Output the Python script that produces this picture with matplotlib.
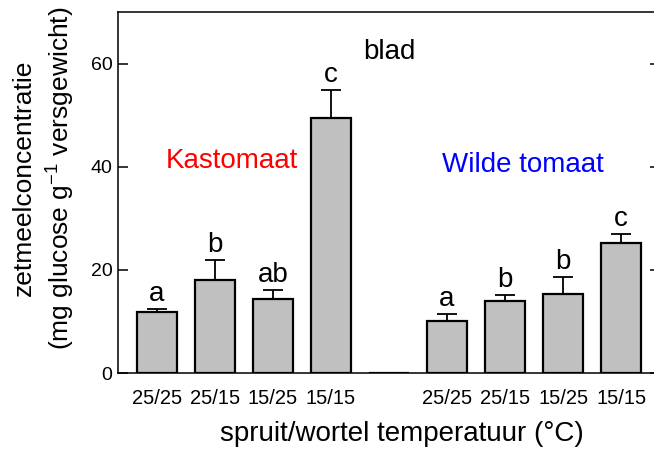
import matplotlib
matplotlib.use("Agg")
import matplotlib.pyplot as plt
import numpy as np

plt.rcParams['font.family'] = ['Liberation Sans', 'DejaVu Sans']
plt.rcParams['mathtext.default'] = 'regular'

# Dati
behandelingen = ["25/25", "25/15", "15/25", "15/15"]
kast_gem = [11.9, 18.0, 14.3, 49.5]
kast_se = [0.5, 3.9, 1.8, 5.3]
kast_letters = ["a", "b", "ab", "c"]
wild_gem = [10.1, 13.9, 15.3, 25.2]
wild_se = [1.3, 1.2, 3.3, 1.7]
wild_letters = ["a", "b", "b", "c"]

x_kast = np.arange(4)
x_wild = np.arange(4) + 5
x_gap = 4

fig = plt.figure(figsize=(6.54, 4.54), dpi=100)
ax = fig.add_axes([118 / 654, 1 - 373 / 454, 542 / 654, 361 / 454])

breedte = 0.68
for xs, gem, se, letters in [(x_kast, kast_gem, kast_se, kast_letters),
                             (x_wild, wild_gem, wild_se, wild_letters)]:
    ax.errorbar(xs, gem, yerr=[np.zeros(4), se], fmt='none', ecolor='black',
                elinewidth=1.3, capsize=7.5, capthick=1.3, zorder=2)
    ax.bar(xs, gem, width=breedte, color='#c0c0c0', edgecolor='black',
           linewidth=1.6, zorder=3)
    for xi, g, s, l in zip(xs, gem, se, letters):
        ax.annotate(l, (xi, g + s), xytext=(0, 6), textcoords='offset points',
                    ha='center', va='baseline', fontsize=20)

# lege balk tussen de groepen
ax.bar([x_gap], [0], width=breedte, color='#c0c0c0', edgecolor='black',
       linewidth=1.6, zorder=3)

ax.text(1.3, 39.7, "Kastomaat", color='red', fontsize=20, ha='center', va='baseline')
ax.text(6.3, 38.9, "Wilde tomaat", color='blue', fontsize=20, ha='center', va='baseline')
ax.text(4, 60.8, "blad", fontsize=20, ha='center', va='baseline')

ax.set_xlim(-0.67, 8.67)
ax.set_ylim(0, 70)
ax.set_yticks([0, 20, 40, 60])
ax.set_xticks(list(x_kast) + list(x_wild))
ax.set_xticklabels(behandelingen + behandelingen)

ax.tick_params(axis='y', direction='in', length=7.5, width=1.1, labelsize=14,
               pad=4, right=True)
ax.tick_params(axis='x', length=0, labelsize=14.5, pad=11.5)
for s in ax.spines.values():
    s.set_linewidth(1.1)

ax.set_ylabel("zetmeelconcentratie\n(mg glucose g$^{-1}$ versgewicht)",
              fontsize=19, linespacing=1.35)
ax.yaxis.set_label_coords(-0.076, 0.54)
ax.set_xlabel("spruit/wortel temperatuur (°C)", fontsize=20)
ax.xaxis.set_label_coords(0.524, -0.133)

fig.savefig("out.png", dpi=100)
